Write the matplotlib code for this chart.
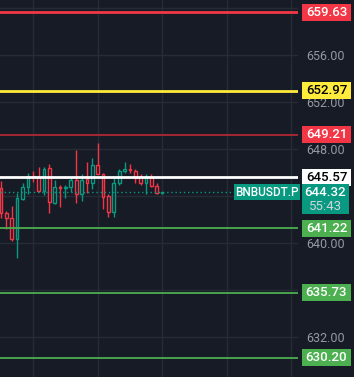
import matplotlib
matplotlib.use("Agg")
import matplotlib.pyplot as plt
from matplotlib.patches import Rectangle
from matplotlib.transforms import blended_transform_factory

plt.rcParams['font.family'] = ['Roboto', 'DejaVu Sans']

# candles (oldest first)
opens = [644.64, 642.50, 642.08, 640.29, 643.72, 644.72, 645.71, 645.63, 644.43, 646.34,
         643.41, 644.72, 644.69, 644.72, 645.34, 644.12, 645.40, 645.11, 646.62, 645.83,
         643.98, 642.64, 645.06, 646.14, 646.28, 646.14, 645.63, 645.06, 645.63, 644.86, 644.21]
highs = [645.26, 642.70, 643.13, 644.21, 645.06, 645.97, 646.11, 646.43, 646.48, 646.71,
         645.34, 644.92, 644.92, 645.63, 647.90, 645.83, 646.85, 647.19, 648.47, 645.91,
         644.12, 645.54, 646.28, 646.85, 646.71, 646.28, 645.83, 645.83, 645.83, 645.06, 644.35]
lows = [642.08, 641.14, 640.17, 638.67, 643.64, 644.12, 645.20, 644.35, 644.06, 642.56,
        643.30, 643.07, 643.83, 644.35, 643.41, 643.58, 644.21, 644.58, 645.83, 642.87,
        642.21, 642.16, 644.92, 645.91, 645.91, 645.11, 644.92, 644.12, 644.77, 644.12, 644.12]
closes = [642.50, 642.08, 640.29, 643.78, 644.72, 645.71, 645.63, 644.43, 646.28, 643.44,
          644.72, 644.64, 644.72, 645.34, 644.12, 645.34, 645.11, 646.62, 645.83, 643.92,
          642.64, 645.06, 646.14, 646.28, 646.20, 645.54, 645.06, 645.63, 644.86, 644.21, 644.32]

levels = [659.63, 652.97, 649.21, 645.57, 641.22, 635.73, 630.20]
level_colors = ['#F23645', '#FFEB3B', '#B22833', '#FFFFFF', '#4CAF50', '#4CAF50', '#4CAF50']
tag_colors = ['#F23645', '#FFEB3B', '#F23645', '#FFFFFF', '#4CAF50', '#4CAF50', '#4CAF50']
tag_text = ['white', 'black', 'white', 'black', 'white', 'white', 'white']
level_widths = [2, 2, 1.3, 2, 1.3, 1.3, 1.3]

ticks = [632, 636, 640, 644, 648, 652, 656, 660]
shown_ticks = [632, 640, 648, 652, 656]   # the rest sit under the tags
symbol = 'BNBUSDT.P'
last_price = 644.32
countdown = '55:43'

bg = '#171B26'
up = '#089981'
down = '#F23645'

W, H = 354, 377
fig = plt.figure(figsize=(W / 100, H / 100), dpi=100, facecolor=bg)
ax = fig.add_axes([0, 0, 298 / W, 1], facecolor=bg)
ax.set_xlim(-0.19, 55.3)
ax.set_ylim(628.55, 660.69)
for s in ax.spines.values():
    s.set_visible(False)

ax.set_xticks([6, 18, 30, 42, 54])
ax.set_xticklabels([])
ax.tick_params(axis='x', length=0)
ax.yaxis.tick_right()
ax.set_yticks(ticks)
ax.set_yticklabels([f'{t:.2f}' if t in shown_ticks else '' for t in ticks])
ax.tick_params(axis='y', length=0, pad=6, labelsize=9, labelcolor='#9598A1')
ax.grid(True, color='#272B36', linewidth=1)
ax.set_axisbelow(True)

# candles
bw = 0.5
for i in range(len(opens)):
    o, h, l, c = opens[i], highs[i], lows[i], closes[i]
    col = up if c >= o else down
    ax.vlines(i, l, h, color=col, linewidth=1, zorder=3)
    bot = min(o, c)
    hgt = max(abs(c - o), 0.08)
    ax.add_patch(Rectangle((i - bw / 2, bot), bw, hgt, facecolor=bg,
                           edgecolor=col, linewidth=1, zorder=4))

# horizontal levels
for lv, col, lw in zip(levels, level_colors, level_widths):
    ax.axhline(lv, color=col, linewidth=lw, zorder=5)

# last price dotted line
tr = blended_transform_factory(fig.transFigure, ax.transData)
ax.plot([0, 234 / W], [last_price, last_price], transform=tr, color=up,
        linestyle=(0, (1, 2)), linewidth=1, zorder=5)

px = 11.73  # pixels per price unit
fs = 9.5
# level tags on the price scale
for lv, col, tc in zip(levels, tag_colors, tag_text):
    ax.add_patch(Rectangle((302 / W, lv - 8.5 / px), 49 / W, 17 / px, transform=tr,
                           facecolor=col, edgecolor='none', clip_on=False, zorder=6))
    ax.text(326.5 / W, lv, f'{lv:.2f}', transform=tr, color=tc, fontsize=fs,
            fontweight='medium', ha='center', va='center', clip_on=False, zorder=7)

# symbol tag and last price tag
y_top = last_price + 8 / px
ax.add_patch(Rectangle((234 / W, y_top - 16 / px), 66 / W, 16 / px, transform=tr,
                       facecolor=up, edgecolor='none', clip_on=False, zorder=6))
ax.text(267 / W, y_top - 8 / px, symbol, transform=tr, color='white', fontsize=8.5,
        fontweight='medium', ha='center', va='center', clip_on=False, zorder=7)
ax.add_patch(Rectangle((302 / W, y_top - 30 / px), 47 / W, 30 / px, transform=tr,
                       facecolor=up, edgecolor='none', clip_on=False, zorder=8))
ax.text(325.5 / W, y_top - 8 / px, f'{last_price:.2f}', transform=tr, color='white',
        fontsize=fs, fontweight='medium', ha='center', va='center', clip_on=False, zorder=9)
ax.text(325.5 / W, y_top - 22 / px, countdown, transform=tr, color='#D1D4DC',
        fontsize=fs, ha='center', va='center', clip_on=False, zorder=9)

fig.savefig('out.png', dpi=100, facecolor=bg)
